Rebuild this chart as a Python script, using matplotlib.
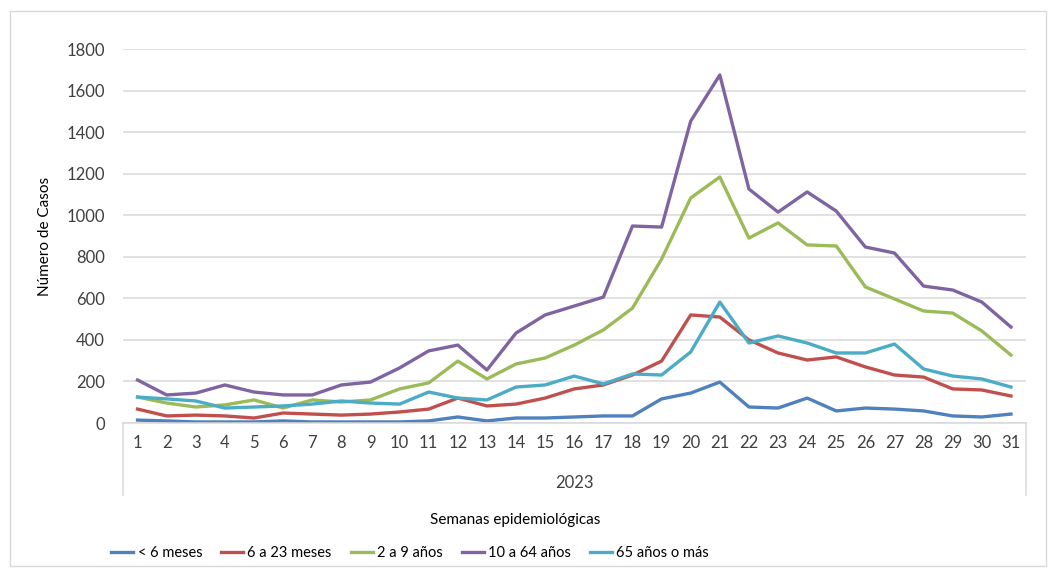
import matplotlib
matplotlib.use("Agg")
import matplotlib.pyplot as plt
from matplotlib.patches import Rectangle

plt.rcParams['font.family'] = ['Lato', 'DejaVu Sans']

weeks = list(range(1, 32))
year_label = "2023"

menos_6_meses = [14, 10, 5, 5, 5, 10, 5, 5, 5, 5, 10, 29, 10, 24, 24, 29, 34, 34,
                 116, 144, 197, 77, 72, 120, 58, 72, 67, 58, 34, 29, 43]
de_6_a_23_meses = [67, 34, 38, 34, 24, 48, 43, 38, 43, 53, 67, 120, 82, 91, 120, 164,
                   183, 231, 298, 520, 510, 400, 337, 303, 318, 270, 231, 221, 164, 159, 130]
de_2_a_9_anios = [125, 96, 77, 87, 111, 72, 111, 101, 111, 164, 193, 298, 212, 284, 313,
                  375, 448, 553, 789, 1083, 1184, 890, 963, 857, 852, 655, 597, 539, 529, 443, 327]
de_10_a_64_anios = [207, 135, 144, 183, 149, 135, 135, 183, 197, 265, 347, 375, 255, 433,
                    520, 563, 606, 948, 943, 1453, 1675, 1126, 1015, 1112, 1020, 847, 818,
                    659, 640, 582, 462]
de_65_o_mas = [125, 116, 106, 72, 77, 82, 91, 106, 96, 91, 149, 120, 111, 173, 183, 226,
               188, 236, 231, 342, 582, 385, 419, 385, 337, 337, 380, 260, 226, 212, 173]

series = [
    ("< 6 meses", menos_6_meses, "#4F81BD"),
    ("6 a 23 meses", de_6_a_23_meses, "#C0504D"),
    ("2 a 9 años", de_2_a_9_anios, "#9BBB59"),
    ("10 a 64 años", de_10_a_64_anios, "#8064A2"),
    ("65 años o más", de_65_o_mas, "#4BACC6"),
]

yticks = [0, 200, 400, 600, 800, 1000, 1200, 1400, 1600, 1800]

fig = plt.figure(figsize=(10.57, 5.69), dpi=100)
W, H = 1057, 569
ax = fig.add_axes([123 / W, 1 - 423 / H, (1025.5 - 123) / W, (423 - 49) / H])

for name, vals, color in series:
    ax.plot(weeks, vals, color=color, lw=2.4, label=name, solid_joinstyle='round')

ax.set_xlim(0.5, 31.5)
ax.set_ylim(0, 1800)
ax.set_yticks(yticks)
ax.set_yticklabels([str(v) for v in yticks])
ax.set_xticks(weeks)
ax.set_xticklabels([str(w) for w in weeks])
ax.tick_params(axis='both', length=0, labelsize=12, colors='#404040')
ax.tick_params(axis='x', pad=9)
ax.tick_params(axis='y', pad=13)
ax.grid(axis='y', color='#D9D9D9', lw=1.1)
ax.set_axisbelow(True)
for s in ax.spines.values():
    s.set_visible(False)

# Category axis frame with the year label
box_bottom = -(495 - 423) / (423 - 49)
ax.plot([0, 1], [0, 0], transform=ax.transAxes, color='#D9D9D9', lw=1.1, clip_on=False)
ax.plot([0, 0], [0, box_bottom], transform=ax.transAxes, color='#D9D9D9', lw=1.1, clip_on=False)
ax.plot([1, 1], [0, box_bottom], transform=ax.transAxes, color='#D9D9D9', lw=1.1, clip_on=False)
ax.text(0.5, -(483 - 423) / (423 - 49), year_label, transform=ax.transAxes,
        ha='center', va='center', fontsize=12, color='#404040')

fig.text(515 / W, 1 - 520 / H, "Semanas epidemiológicas", ha='center', va='center',
         fontsize=11, color='#000000')
fig.text(45 / W, 1 - 236 / H, "Número de Casos", ha='center', va='center',
         rotation=90, fontsize=11, color='#000000')

fig.legend(loc='center', bbox_to_anchor=(410 / W, 1 - 553 / H), ncol=5, frameon=False,
           fontsize=10.5, handlelength=1.5, handletextpad=0.3, columnspacing=1.3,
           labelcolor='#000000')

fig.patches.append(Rectangle((10 / W, 1 - 566 / H), (1046 - 10) / W, (566 - 11) / H,
                             transform=fig.transFigure, fill=False, edgecolor='#D9D9D9', lw=1))

fig.savefig("out.png", dpi=100, facecolor='white')
